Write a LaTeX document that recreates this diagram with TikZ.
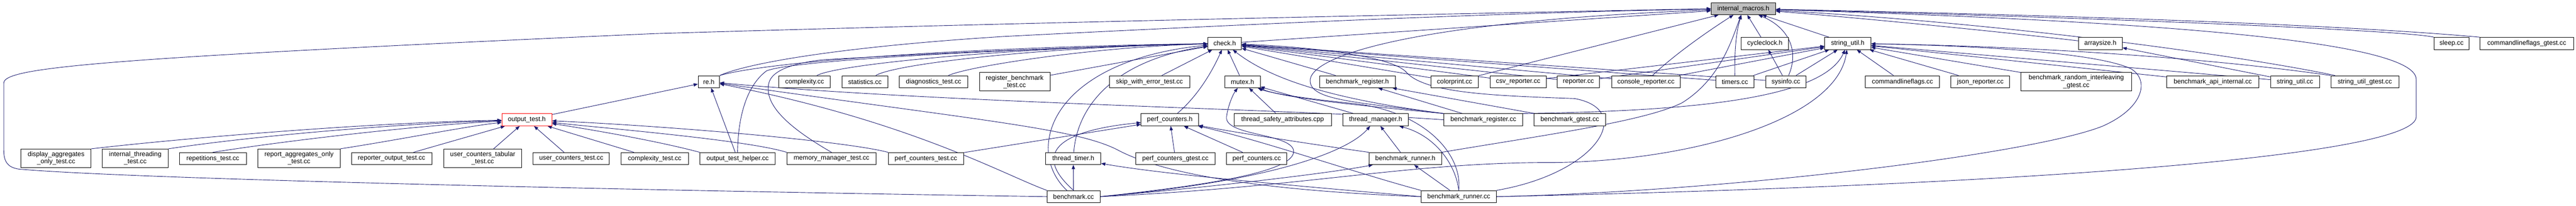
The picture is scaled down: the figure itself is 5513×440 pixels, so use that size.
\documentclass[tikz,border=0pt]{standalone}
\usepackage{fontspec}
\setmainfont{Liberation Sans}
\usetikzlibrary{arrows.meta}
\definecolor{edgeblue}{RGB}{25,25,112}
\definecolor{focusgray}{RGB}{191,191,191}
\pgfdeclarelayer{edgelayer}
\pgfdeclarelayer{paper}
\pgfsetlayers{paper,edgelayer,main}
\begin{document}
\begin{tikzpicture}[x=1pt,y=-1pt,
  nd/.style={draw=black, line width=0.9pt, fill=white, minimum height=26pt, inner sep=0pt,
             font=\fontsize{14}{15.5}\selectfont, align=center},
  two/.style={minimum height=40pt},
  edg/.style={draw=edgeblue, line width=1pt, -{Triangle[length=9pt,width=7pt]}}]
\begin{pgfonlayer}{paper}
\fill[white] (0,0) rectangle (5513,440);
\end{pgfonlayer}
\path[use as bounding box] (0,0) rectangle (5513,440);
% rank 0
\node[nd, fill=focusgray, minimum width=138pt] (im) at (3731,18.5) {internal\_macros.h};
% rank 1
\node[nd, minimum width=72pt]  (ck)  at (2621,93)   {check.h};
\node[nd, minimum width=102pt] (cc)  at (3777,93)   {cycleclock.h};
\node[nd, minimum width=99pt]  (su)  at (3954.5,93) {string\_util.h};
\node[nd, minimum width=94pt]  (as)  at (4495,93)   {arraysize.h};
\node[nd, minimum width=75pt]  (sl)  at (5246.5,93) {sleep.cc};
\node[nd, minimum width=201pt] (cfg) at (5407.5,93) {commandlineflags\_gtest.cc};
% rank 2
\node[nd, minimum width=46pt]  (re)  at (1517,175)   {re.h};
\node[nd, minimum width=110pt] (cx)  at (1722,175)   {complexity.cc};
\node[nd, minimum width=98pt]  (st)  at (1851,175)   {statistics.cc};
\node[nd, minimum width=146pt] (dt)  at (1998,175)   {diagnostics\_test.cc};
\node[nd, two, minimum width=151pt] (rbt) at (2171.5,175) {register\_benchmark\\\_test.cc};
\node[nd, minimum width=172pt] (swe) at (2460,175)   {skip\_with\_error\_test.cc};
\node[nd, minimum width=76pt]  (mx)  at (2659,175)   {mutex.h};
\node[nd, minimum width=162pt] (bregh) at (2905,175) {benchmark\_register.h};
\node[nd, minimum width=102pt] (cp)  at (3113,175)   {colorprint.cc};
\node[nd, minimum width=120pt] (csv) at (3249,175)   {csv\_reporter.cc};
\node[nd, minimum width=90pt]  (rep) at (3378,175)   {reporter.cc};
\node[nd, minimum width=147pt] (con) at (3522.5,175) {console\_reporter.cc};
\node[nd, minimum width=82pt]  (tmr) at (3713,175)   {timers.cc};
\node[nd, minimum width=86pt]  (sys) at (3822,175)   {sysinfo.cc};
\node[nd, minimum width=159pt] (cf)  at (4071.5,175) {commandlineflags.cc};
\node[nd, minimum width=126pt] (jr)  at (4238,175)   {json\_reporter.cc};
\node[nd, two, minimum width=237pt] (bri) at (4443.5,175) {benchmark\_random\_interleaving\\\_gtest.cc};
\node[nd, minimum width=197pt] (bai) at (4735.5,175) {benchmark\_api\_internal.cc};
\node[nd, minimum width=105pt] (suc) at (4911.5,175) {string\_util.cc};
\node[nd, minimum width=146pt] (sug) at (5061,175)   {string\_util\_gtest.cc};
% rank 3
\node[nd, draw=red, minimum width=107pt] (ot) at (1127.5,256.5) {output\_test.h};
\node[nd, minimum width=123pt] (pc)  at (2503.5,256.5) {perf\_counters.h};
\node[nd, minimum width=208pt] (tsa) at (2745,256.5)   {thread\_safety\_attributes.cpp};
\node[nd, minimum width=140pt] (tm)  at (2944,256.5)   {thread\_manager.h};
\node[nd, minimum width=169pt] (bregc) at (3174.5,256.5) {benchmark\_register.cc};
\node[nd, minimum width=153pt] (bg)  at (3359.5,256.5) {benchmark\_gtest.cc};
% rank 4
\node[nd, two, minimum width=150pt] (da)  at (120,339)   {display\_aggregates\\\_only\_test.cc};
\node[nd, two, minimum width=141pt] (it)  at (289.5,339) {internal\_threading\\\_test.cc};
\node[nd, minimum width=143pt] (rpt) at (455.5,339.5) {repetitions\_test.cc};
\node[nd, two, minimum width=176pt] (ra)  at (640,339)   {report\_aggregates\_only\\\_test.cc};
\node[nd, minimum width=172pt] (ro)  at (838,339.5)   {reporter\_output\_test.cc};
\node[nd, two, minimum width=166pt] (uct) at (1033,339)  {user\_counters\_tabular\\\_test.cc};
\node[nd, minimum width=163pt] (uc)  at (1222.5,339.5) {user\_counters\_test.cc};
\node[nd, minimum width=144pt] (cxt) at (1401,339.5)   {complexity\_test.cc};
\node[nd, minimum width=161pt] (oth) at (1578.5,339.5) {output\_test\_helper.cc};
\node[nd, minimum width=191pt] (mmt) at (1779.5,339.5) {memory\_manager\_test.cc};
\node[nd, minimum width=161pt] (pct) at (1981.5,339.5) {perf\_counters\_test.cc};
\node[nd, minimum width=118pt] (tt)  at (2297,339.5)   {thread\_timer.h};
\node[nd, minimum width=169pt] (pcg) at (2515.5,339.5) {perf\_counters\_gtest.cc};
\node[nd, minimum width=129pt] (pcc) at (2689.5,339.5) {perf\_counters.cc};
\node[nd, minimum width=155pt] (brunh) at (3007.5,339.5) {benchmark\_runner.h};
% rank 5
\node[nd, minimum width=113pt] (bm)    at (2297.5,421) {benchmark.cc};
\node[nd, minimum width=161pt] (brunc) at (3122,421)   {benchmark\_runner.cc};

\begin{pgfonlayer}{edgelayer}
% ---- edges to internal_macros.h
\draw[edg] (bm.west) .. controls (1500,410) and (300,385) .. (40,362) .. controls (15,358) and (8,345) .. (8,320) -- (8,178) .. controls (8,145) and (200,125) .. (1400,72) .. controls (2300,45) and (3200,28) .. (im.west);
\draw[edg] (bregc.north west) .. controls (2900,218) and (2800,215) .. (2804,170) .. controls (2812,115) and (3050,45) .. (im);
\draw[edg] (ck) -- (im);
\draw[edg] (re.north east) .. controls (1600,135) and (1800,100) .. (2150,78) .. controls (2800,45) and (3300,25) .. (im);
\draw[edg] (cp) -- (im);
\draw[edg] (con) .. controls (3580,120) and (3650,70) .. (im);
\draw[edg] (tmr) .. controls (3712,110) and (3715,70) .. (im);
\draw[edg] (brunh.north east) .. controls (3300,290) and (3520,260) .. (3600,220) .. controls (3680,170) and (3705,90) .. (im);
\draw[edg] (cc) -- (im);
\draw[edg] (sys) .. controls (3850,110) and (3830,60) .. (im);
\draw[edg] (su) -- (im);
\draw[edg] (as) .. controls (4300,70) and (4000,40) .. (im);
\draw[edg] (sug) .. controls (4800,120) and (4300,50) .. (im);
\draw[edg] (sl.north west) .. controls (5150,65) and (4500,38) .. (im);
\draw[edg] (cfg.north west) .. controls (5000,52) and (4400,32) .. (im);
\draw[edg] (brunc.east) .. controls (4400,395) and (5171,330) .. (5171,250) -- (5171,170) .. controls (5171,80) and (4500,42) .. (im);
% ---- edges to check.h
\draw[edg] (re.north east) .. controls (1650,130) and (2100,100) .. (ck);
\draw[edg] (oth.north) .. controls (1579,270) and (1590,190) .. (1640,152) .. controls (1700,125) and (2300,100) .. (ck);
\draw[edg] (mmt.north) .. controls (1700,280) and (1635,230) .. (1645,180) .. controls (1650,150) and (1700,135) .. (1760,128) .. controls (2100,108) and (2400,98) .. (ck);
\draw[edg] (cx) .. controls (1800,135) and (2200,100) .. (ck);
\draw[edg] (st) .. controls (1920,135) and (2250,100) .. (ck);
\draw[edg] (dt) .. controls (2080,140) and (2350,100) .. (ck);
\draw[edg] (rbt) -- (ck);
\draw[edg] (swe) -- (ck);
\draw[edg] (bm) .. controls (2190,320) and (2250,130) .. (ck);
\draw[edg] (tt) .. controls (2305,230) and (2380,130) .. (ck);
\draw[edg] (pc) .. controls (2570,200) and (2600,140) .. (ck);
\draw[edg] (mx) -- (ck);
\draw[edg] (bregh) -- (ck);
\draw[edg] (cp) -- (ck);
\draw[edg] (csv) -- (ck);
\draw[edg] (rep) -- (ck);
\draw[edg] (con) -- (ck);
\draw[edg] (tmr) -- (ck);
\draw[edg] (sys) -- (ck);
\draw[edg] (bregc.north west) .. controls (2850,212) and (2720,170) .. (ck);
\draw[edg] (brunc.north east) .. controls (3420,370) and (3500,235) .. (3370,211) .. controls (3200,205) and (3050,200) .. (3010,155) .. controls (2980,120) and (2800,100) .. (ck);
% ---- edges to re.h
\draw[edg] (ot) -- (re);
\draw[edg] (oth) -- (re);
\draw[edg] (bm.north west) .. controls (2150,375) and (1950,260) .. (re);
\draw[edg] (brunc.west) .. controls (2750,410) and (2500,380) .. (2390,320) .. controls (2300,275) and (2100,258) .. (re);
\draw[edg] (bregc.west) .. controls (2800,235) and (2000,220) .. (re);
% ---- edges to output_test.h
\draw[edg] (da.north east) .. controls (400,295) and (800,262) .. (ot);
\draw[edg] (it.north east) .. controls (550,290) and (850,265) .. (ot);
\draw[edg] (rpt.north) .. controls (620,300) and (900,268) .. (ot);
\draw[edg] (ra.north east) .. controls (850,300) and (1000,270) .. (ot);
\draw[edg] (ro) -- (ot);
\draw[edg] (uct) -- (ot);
\draw[edg] (uc) -- (ot);
\draw[edg] (cxt) -- (ot);
\draw[edg] (oth.north west) .. controls (1400,300) and (1250,275) .. (ot);
\draw[edg] (mmt.north west) .. controls (1600,300) and (1300,275) .. (ot);
\draw[edg] (pct.north west) .. controls (1800,300) and (1400,268) .. (ot);
% ---- edges to mutex.h
\draw[edg] (tsa) -- (mx);
\draw[edg] (bm.east) .. controls (2600,395) and (2780,365) .. (2768,320) .. controls (2755,285) and (2620,290) .. (2625,250) .. controls (2628,225) and (2640,200) .. (mx);
\draw[edg] (tm) -- (mx);
\draw[edg] (bregc.north west) .. controls (2900,225) and (2750,210) .. (mx);
\draw[edg] (brunc.north) .. controls (3130,330) and (3050,240) .. (2900,222) .. controls (2800,212) and (2720,200) .. (mx);
% ---- edges to perf_counters.h
\draw[edg] (bm.north) .. controls (2210,330) and (2260,280) .. (pc);
\draw[edg] (pct) -- (pc);
\draw[edg] (pcg) -- (pc);
\draw[edg] (pcc) -- (pc);
\draw[edg] (brunh.north west) .. controls (2850,315) and (2650,285) .. (pc);
\draw[edg] (brunc.north west) .. controls (2900,370) and (2700,300) .. (pc);
% ---- edges to thread_timer.h
\draw[edg] (bm) -- (tt);
\draw[edg] (brunc.west) .. controls (2800,400) and (2500,375) .. (tt);
% ---- edges to thread_manager.h
\draw[edg] (bm.east) .. controls (2700,390) and (2880,330) .. (tm);
\draw[edg] (brunh) -- (tm);
\draw[edg] (brunc.north) .. controls (3115,350) and (3070,290) .. (tm);
% ---- edges to benchmark_runner.h
\draw[edg] (bm.east) .. controls (2600,400) and (2850,370) .. (brunh);
\draw[edg] (brunc) -- (brunh);
% ---- edges to benchmark_register.h
\draw[edg] (bregc) -- (bregh);
\draw[edg] (bg) -- (bregh);
% ---- cycleclock.h
\draw[edg] (sys) -- (cc);
% ---- edges to string_util.h
\draw[edg] (csv) -- (su);
\draw[edg] (rep) -- (su);
\draw[edg] (con) -- (su);
\draw[edg] (tmr) -- (su);
\draw[edg] (sys) -- (su);
\draw[edg] (bregc.north east) .. controls (3600,238) and (3900,215) .. (su);
\draw[edg] (bm.east) .. controls (2800,400) and (3000,350) .. (3300,348) .. controls (3600,350) and (3930,260) .. (su);
\draw[edg] (cf) -- (su);
\draw[edg] (jr) -- (su);
\draw[edg] (bri) -- (su);
\draw[edg] (bai) -- (su);
\draw[edg] (suc) -- (su);
\draw[edg] (sug.north west) .. controls (4700,120) and (4300,98) .. (su);
\draw[edg] (brunc.east) .. controls (3700,410) and (4350,330) .. (4500,270) .. controls (4590,230) and (4600,170) .. (4560,147) .. controls (4480,110) and (4200,97) .. (su);
% ---- arraysize.h
\draw[edg] (suc) -- (as);
\end{pgfonlayer}
\end{tikzpicture}
\end{document}
